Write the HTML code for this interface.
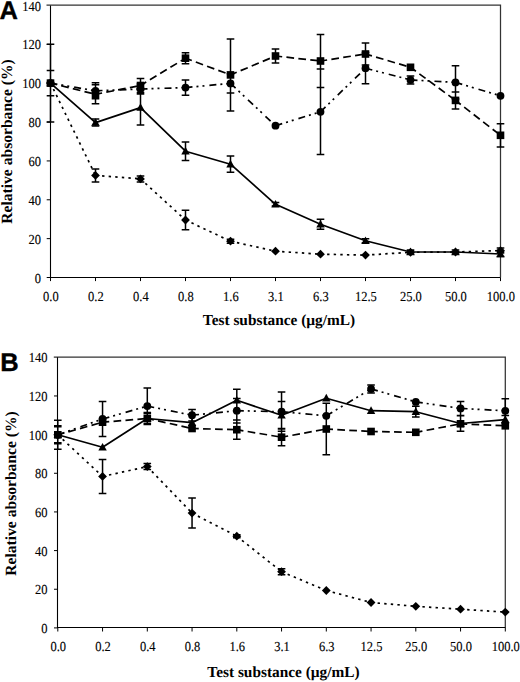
<!DOCTYPE html>
<html><head><meta charset="utf-8"><title>Relative absorbance charts</title>
<style>
html,body{margin:0;padding:0;background:#fff;}
body{width:520px;height:682px;overflow:hidden;font-family:"Liberation Serif",serif;}
svg{display:block;text-rendering:geometricPrecision;}
</style></head><body>
<svg width="520" height="682" viewBox="0 0 520 682"><path d="M46.5 5.2H500.5V277.5" fill="none" stroke="#333" stroke-width="1.25"/>
<path d="M50.5 5.5V277.5H500.5" fill="none" stroke="#000" stroke-width="1.1"/>
<path d="M46.7 238.64H50.5M46.7 199.79H50.5M46.7 160.93H50.5M46.7 122.07H50.5M46.7 83.21H50.5M46.7 44.36H50.5M46.7 277.5H50.5M50.5 277.5V281.1M95.5 277.5V281.1M140.5 277.5V281.1M185.5 277.5V281.1M230.5 277.5V281.1M275.5 277.5V281.1M320.5 277.5V281.1M365.5 277.5V281.1M410.5 277.5V281.1M455.5 277.5V281.1M500.5 277.5V281.1" stroke="#000" stroke-width="1"/>
<g font-family="Liberation Serif" font-size="12.5" text-anchor="end" stroke="#000" stroke-width="0.12"><text transform="translate(40.9 282.5) scale(1 1.1)">0</text><text transform="translate(40.9 243.64) scale(1 1.1)">20</text><text transform="translate(40.9 204.79) scale(1 1.1)">40</text><text transform="translate(40.9 165.93) scale(1 1.1)">60</text><text transform="translate(40.9 127.07) scale(1 1.1)">80</text><text transform="translate(40.9 88.21) scale(1 1.1)">100</text><text transform="translate(40.9 49.36) scale(1 1.1)">120</text><text transform="translate(40.9 10.5) scale(1 1.1)">140</text></g>
<g font-family="Liberation Serif" font-size="12.5" text-anchor="middle" stroke="#000" stroke-width="0.12"><text transform="translate(50.9 301) scale(1 1.1)">0.0</text><text transform="translate(95.9 301) scale(1 1.1)">0.2</text><text transform="translate(140.9 301) scale(1 1.1)">0.4</text><text transform="translate(185.9 301) scale(1 1.1)">0.8</text><text transform="translate(230.9 301) scale(1 1.1)">1.6</text><text transform="translate(275.9 301) scale(1 1.1)">3.1</text><text transform="translate(320.9 301) scale(1 1.1)">6.3</text><text transform="translate(365.9 301) scale(1 1.1)">12.5</text><text transform="translate(410.9 301) scale(1 1.1)">25.0</text><text transform="translate(455.9 301) scale(1 1.1)">50.0</text><text transform="translate(500.9 301) scale(1 1.1)">100.0</text></g>
<text x="279" y="325.2" font-family="Liberation Serif" font-weight="bold" font-size="15.35" text-anchor="middle">Test substance (µg/mL)</text>
<text transform="translate(12.3 141.5) rotate(-90)" font-family="Liberation Serif" font-weight="bold" font-size="15.6" text-anchor="middle">Relative absorbance (%)</text>
<text x="-0.6" y="18.9" font-family="Liberation Sans" font-weight="bold" font-size="25.5" stroke="#000" stroke-width="0.35">A</text>
<line x1="50.5" y1="83.1" x2="95.5" y2="175.4" stroke="#000" stroke-width="1.7" stroke-dasharray="2.4 4.2" stroke-dashoffset="0"/>
<line x1="95.5" y1="175.4" x2="140.5" y2="178.9" stroke="#000" stroke-width="1.7" stroke-dasharray="2.4 4.2" stroke-dashoffset="0"/>
<line x1="140.5" y1="178.9" x2="185.5" y2="220" stroke="#000" stroke-width="1.7" stroke-dasharray="2.4 4.2" stroke-dashoffset="0"/>
<line x1="185.5" y1="220" x2="230.5" y2="241.2" stroke="#000" stroke-width="1.7" stroke-dasharray="2.4 4.2" stroke-dashoffset="0"/>
<line x1="230.5" y1="241.2" x2="275.5" y2="251.2" stroke="#000" stroke-width="1.7" stroke-dasharray="2.4 4.2" stroke-dashoffset="0"/>
<line x1="275.5" y1="251.2" x2="320.5" y2="254.2" stroke="#000" stroke-width="1.7" stroke-dasharray="2.4 4.2" stroke-dashoffset="0"/>
<line x1="320.5" y1="254.2" x2="365.5" y2="255.1" stroke="#000" stroke-width="1.7" stroke-dasharray="2.4 4.2" stroke-dashoffset="0"/>
<line x1="365.5" y1="255.1" x2="410.5" y2="252.3" stroke="#000" stroke-width="1.7" stroke-dasharray="2.4 4.2" stroke-dashoffset="0"/>
<line x1="410.5" y1="252.3" x2="455.5" y2="252" stroke="#000" stroke-width="1.7" stroke-dasharray="2.4 4.2" stroke-dashoffset="0"/>
<line x1="455.5" y1="252" x2="500.5" y2="250.6" stroke="#000" stroke-width="1.7" stroke-dasharray="2.4 4.2" stroke-dashoffset="0"/>
<polyline points="50.5,83.1 95.5,122.6 140.5,107.6 185.5,151.2 230.5,164.2 275.5,204.3 320.5,224.3 365.5,240.8 410.5,252 455.5,252 500.5,254" fill="none" stroke="#000" stroke-width="1.7" stroke-linejoin="round"/>
<line x1="50.5" y1="83.1" x2="95.5" y2="90.8" stroke="#000" stroke-width="1.7" stroke-dasharray="7 4 2 4 2 5" stroke-dashoffset="0"/>
<line x1="95.5" y1="90.8" x2="140.5" y2="89" stroke="#000" stroke-width="1.7" stroke-dasharray="7 4 2 4 2 5" stroke-dashoffset="0"/>
<line x1="140.5" y1="89" x2="185.5" y2="87.6" stroke="#000" stroke-width="1.7" stroke-dasharray="7 4 2 4 2 5" stroke-dashoffset="0"/>
<line x1="185.5" y1="87.6" x2="230.5" y2="83.4" stroke="#000" stroke-width="1.7" stroke-dasharray="7 4 2 4 2 5" stroke-dashoffset="0"/>
<line x1="230.5" y1="83.4" x2="275.5" y2="125.7" stroke="#000" stroke-width="1.7" stroke-dasharray="7 4 2 4 2 5" stroke-dashoffset="0"/>
<line x1="275.5" y1="125.7" x2="320.5" y2="111.8" stroke="#000" stroke-width="1.7" stroke-dasharray="7 4 2 4 2 5" stroke-dashoffset="0"/>
<line x1="320.5" y1="111.8" x2="365.5" y2="68.2" stroke="#000" stroke-width="1.7" stroke-dasharray="7 4 2 4 2 5" stroke-dashoffset="0"/>
<line x1="365.5" y1="68.2" x2="410.5" y2="79.9" stroke="#000" stroke-width="1.7" stroke-dasharray="7 4 2 4 2 5" stroke-dashoffset="0"/>
<line x1="410.5" y1="79.9" x2="455.5" y2="82.4" stroke="#000" stroke-width="1.7" stroke-dasharray="7 4 2 4 2 5" stroke-dashoffset="0"/>
<line x1="455.5" y1="82.4" x2="500.5" y2="95.8" stroke="#000" stroke-width="1.7" stroke-dasharray="7 4 2 4 2 5" stroke-dashoffset="0"/>
<line x1="50.5" y1="83.1" x2="95.5" y2="94.3" stroke="#000" stroke-width="1.7" stroke-dasharray="7.7 4.3" stroke-dashoffset="1"/>
<line x1="95.5" y1="94.3" x2="140.5" y2="85.5" stroke="#000" stroke-width="1.7" stroke-dasharray="7.7 4.3" stroke-dashoffset="1"/>
<line x1="140.5" y1="85.5" x2="185.5" y2="58.2" stroke="#000" stroke-width="1.7" stroke-dasharray="7.7 4.3" stroke-dashoffset="1"/>
<line x1="185.5" y1="58.2" x2="230.5" y2="74.9" stroke="#000" stroke-width="1.7" stroke-dasharray="7.7 4.3" stroke-dashoffset="1"/>
<line x1="230.5" y1="74.9" x2="275.5" y2="56" stroke="#000" stroke-width="1.7" stroke-dasharray="7.7 4.3" stroke-dashoffset="1"/>
<line x1="275.5" y1="56" x2="320.5" y2="61" stroke="#000" stroke-width="1.7" stroke-dasharray="7.7 4.3" stroke-dashoffset="1"/>
<line x1="320.5" y1="61" x2="365.5" y2="54" stroke="#000" stroke-width="1.7" stroke-dasharray="7.7 4.3" stroke-dashoffset="1"/>
<line x1="365.5" y1="54" x2="410.5" y2="67.3" stroke="#000" stroke-width="1.7" stroke-dasharray="7.7 4.3" stroke-dashoffset="1"/>
<line x1="410.5" y1="67.3" x2="455.5" y2="100.4" stroke="#000" stroke-width="1.7" stroke-dasharray="7.7 4.3" stroke-dashoffset="1"/>
<line x1="455.5" y1="100.4" x2="500.5" y2="135.3" stroke="#000" stroke-width="1.7" stroke-dasharray="7.7 4.3" stroke-dashoffset="1"/>
<path d="M95.5 168.9V181.9M91.7 168.9H99.3M91.7 181.9H99.3M140.5 175.9V181.9M136.7 175.9H144.3M136.7 181.9H144.3M185.5 210.3V229.7M181.7 210.3H189.3M181.7 229.7H189.3M230.5 239.2V243.2M226.7 239.2H234.3M226.7 243.2H234.3M410.5 250.3V254.3M406.7 250.3H414.3M406.7 254.3H414.3M455.5 250V254M451.7 250H459.3M451.7 254H459.3M500.5 248.1V253.1M496.7 248.1H504.3M496.7 253.1H504.3M95.5 119.1V126.1M91.7 119.1H99.3M91.7 126.1H99.3M140.5 90.1V125.1M136.7 90.1H144.3M136.7 125.1H144.3M185.5 142V160.4M181.7 142H189.3M181.7 160.4H189.3M230.5 156.1V172.3M226.7 156.1H234.3M226.7 172.3H234.3M275.5 202.5V206.1M271.7 202.5H279.3M271.7 206.1H279.3M320.5 219.3V229.3M316.7 219.3H324.3M316.7 229.3H324.3M365.5 238.8V242.8M361.7 238.8H369.3M361.7 242.8H369.3M410.5 250V254M406.7 250H414.3M406.7 254H414.3M455.5 250V254M451.7 250H459.3M451.7 254H459.3M500.5 251.5V256.5M496.7 251.5H504.3M496.7 256.5H504.3M50.5 70.4V95.8M46.7 70.4H54.3M46.7 95.8H54.3M95.5 82.8V98.8M91.7 82.8H99.3M91.7 98.8H99.3M140.5 84V94M136.7 84H144.3M136.7 94H144.3M185.5 79.9V95.3M181.7 79.9H189.3M181.7 95.3H189.3M230.5 73.7V93.1M226.7 73.7H234.3M226.7 93.1H234.3M320.5 69V154.6M316.7 69H324.3M316.7 154.6H324.3M365.5 52.6V83.8M361.7 52.6H369.3M361.7 83.8H369.3M410.5 75.9V83.9M406.7 75.9H414.3M406.7 83.9H414.3M455.5 65.8V99M451.7 65.8H459.3M451.7 99H459.3M50.5 44.3V121.9M46.7 44.3H54.3M46.7 121.9H54.3M95.5 84.8V103.8M91.7 84.8H99.3M91.7 103.8H99.3M140.5 78.5V92.5M136.7 78.5H144.3M136.7 92.5H144.3M185.5 52.7V63.7M181.7 52.7H189.3M181.7 63.7H189.3M230.5 38.9V110.9M226.7 38.9H234.3M226.7 110.9H234.3M275.5 49V63M271.7 49H279.3M271.7 63H279.3M320.5 34.5V87.5M316.7 34.5H324.3M316.7 87.5H324.3M365.5 43V65M361.7 43H369.3M361.7 65H369.3M455.5 91.9V108.9M451.7 91.9H459.3M451.7 108.9H459.3M500.5 123.7V146.9M496.7 123.7H504.3M496.7 146.9H504.3" fill="none" stroke="#000" stroke-width="1.5"/>
<g fill="#000"><path d="M50.5 78.7L54.9 83.1L50.5 87.5L46.1 83.1Z"/><path d="M95.5 171L99.9 175.4L95.5 179.8L91.1 175.4Z"/><path d="M140.5 174.5L144.9 178.9L140.5 183.3L136.1 178.9Z"/><path d="M185.5 215.6L189.9 220L185.5 224.4L181.1 220Z"/><path d="M230.5 236.8L234.9 241.2L230.5 245.6L226.1 241.2Z"/><path d="M275.5 246.8L279.9 251.2L275.5 255.6L271.1 251.2Z"/><path d="M320.5 249.8L324.9 254.2L320.5 258.6L316.1 254.2Z"/><path d="M365.5 250.7L369.9 255.1L365.5 259.5L361.1 255.1Z"/><path d="M410.5 247.9L414.9 252.3L410.5 256.7L406.1 252.3Z"/><path d="M455.5 247.6L459.9 252L455.5 256.4L451.1 252Z"/><path d="M500.5 246.2L504.9 250.6L500.5 255L496.1 250.6Z"/><path d="M50.5 78.69L54.7 86.29L46.3 86.29Z"/><path d="M95.5 118.19L99.7 125.79L91.3 125.79Z"/><path d="M140.5 103.19L144.7 110.79L136.3 110.79Z"/><path d="M185.5 146.79L189.7 154.39L181.3 154.39Z"/><path d="M230.5 159.79L234.7 167.39L226.3 167.39Z"/><path d="M275.5 199.89L279.7 207.49L271.3 207.49Z"/><path d="M320.5 219.89L324.7 227.49L316.3 227.49Z"/><path d="M365.5 236.39L369.7 243.99L361.3 243.99Z"/><path d="M410.5 247.59L414.7 255.19L406.3 255.19Z"/><path d="M455.5 247.59L459.7 255.19L451.3 255.19Z"/><path d="M500.5 249.59L504.7 257.19L496.3 257.19Z"/><circle cx="50.5" cy="83.1" r="3.9"/><circle cx="95.5" cy="90.8" r="3.9"/><circle cx="140.5" cy="89" r="3.9"/><circle cx="185.5" cy="87.6" r="3.9"/><circle cx="230.5" cy="83.4" r="3.9"/><circle cx="275.5" cy="125.7" r="3.9"/><circle cx="320.5" cy="111.8" r="3.9"/><circle cx="365.5" cy="68.2" r="3.9"/><circle cx="410.5" cy="79.9" r="3.9"/><circle cx="455.5" cy="82.4" r="3.9"/><circle cx="500.5" cy="95.8" r="3.9"/><rect x="46.7" y="79.3" width="7.6" height="7.6"/><rect x="91.7" y="90.5" width="7.6" height="7.6"/><rect x="136.7" y="81.7" width="7.6" height="7.6"/><rect x="181.7" y="54.4" width="7.6" height="7.6"/><rect x="226.7" y="71.1" width="7.6" height="7.6"/><rect x="271.7" y="52.2" width="7.6" height="7.6"/><rect x="316.7" y="57.2" width="7.6" height="7.6"/><rect x="361.7" y="50.2" width="7.6" height="7.6"/><rect x="406.7" y="63.5" width="7.6" height="7.6"/><rect x="451.7" y="96.6" width="7.6" height="7.6"/><rect x="496.7" y="131.5" width="7.6" height="7.6"/></g>
<path d="M53.8 357H505.3V627.9" fill="none" stroke="#333" stroke-width="1.25"/>
<path d="M57.5 357.3V627.5H505.3" fill="none" stroke="#000" stroke-width="1.1"/>
<path d="M54 589.24H57.8M54 550.59H57.8M54 511.93H57.8M54 473.27H57.8M54 434.61H57.8M54 395.96H57.8M54 627.9H57.8M57.8 627.9V631.5M102.55 627.9V631.5M147.3 627.9V631.5M192.05 627.9V631.5M236.8 627.9V631.5M281.55 627.9V631.5M326.3 627.9V631.5M371.05 627.9V631.5M415.8 627.9V631.5M460.55 627.9V631.5M505.3 627.9V631.5" stroke="#000" stroke-width="1"/>
<g font-family="Liberation Serif" font-size="12.5" text-anchor="end" stroke="#000" stroke-width="0.12"><text transform="translate(47.4 632.9) scale(1 1.1)">0</text><text transform="translate(47.4 594.24) scale(1 1.1)">20</text><text transform="translate(47.4 555.59) scale(1 1.1)">40</text><text transform="translate(47.4 516.93) scale(1 1.1)">60</text><text transform="translate(47.4 478.27) scale(1 1.1)">80</text><text transform="translate(47.4 439.61) scale(1 1.1)">100</text><text transform="translate(47.4 400.96) scale(1 1.1)">120</text><text transform="translate(47.4 362.3) scale(1 1.1)">140</text></g>
<g font-family="Liberation Serif" font-size="12.5" text-anchor="middle" stroke="#000" stroke-width="0.12"><text transform="translate(58.2 651.2) scale(1 1.1)">0.0</text><text transform="translate(102.95 651.2) scale(1 1.1)">0.2</text><text transform="translate(147.7 651.2) scale(1 1.1)">0.4</text><text transform="translate(192.45 651.2) scale(1 1.1)">0.8</text><text transform="translate(237.2 651.2) scale(1 1.1)">1.6</text><text transform="translate(281.95 651.2) scale(1 1.1)">3.1</text><text transform="translate(326.7 651.2) scale(1 1.1)">6.3</text><text transform="translate(371.45 651.2) scale(1 1.1)">12.5</text><text transform="translate(416.2 651.2) scale(1 1.1)">25.0</text><text transform="translate(460.95 651.2) scale(1 1.1)">50.0</text><text transform="translate(505.7 651.2) scale(1 1.1)">100.0</text></g>
<text x="283.5" y="677.4" font-family="Liberation Serif" font-weight="bold" font-size="15.35" text-anchor="middle">Test substance (µg/mL)</text>
<text transform="translate(15.7 493.5) rotate(-90)" font-family="Liberation Serif" font-weight="bold" font-size="15.6" text-anchor="middle">Relative absorbance (%)</text>
<text x="0.2" y="371" font-family="Liberation Sans" font-weight="bold" font-size="25.5" stroke="#000" stroke-width="0.35">B</text>
<line x1="57.8" y1="434.8" x2="102.55" y2="476.4" stroke="#000" stroke-width="1.7" stroke-dasharray="2.4 4.2" stroke-dashoffset="0"/>
<line x1="102.55" y1="476.4" x2="147.3" y2="466.6" stroke="#000" stroke-width="1.7" stroke-dasharray="2.4 4.2" stroke-dashoffset="0"/>
<line x1="147.3" y1="466.6" x2="192.05" y2="513.1" stroke="#000" stroke-width="1.7" stroke-dasharray="2.4 4.2" stroke-dashoffset="0"/>
<line x1="192.05" y1="513.1" x2="236.8" y2="536.2" stroke="#000" stroke-width="1.7" stroke-dasharray="2.4 4.2" stroke-dashoffset="0"/>
<line x1="236.8" y1="536.2" x2="281.55" y2="571.7" stroke="#000" stroke-width="1.7" stroke-dasharray="2.4 4.2" stroke-dashoffset="0"/>
<line x1="281.55" y1="571.7" x2="326.3" y2="590.5" stroke="#000" stroke-width="1.7" stroke-dasharray="2.4 4.2" stroke-dashoffset="0"/>
<line x1="326.3" y1="590.5" x2="371.05" y2="602.5" stroke="#000" stroke-width="1.7" stroke-dasharray="2.4 4.2" stroke-dashoffset="0"/>
<line x1="371.05" y1="602.5" x2="415.8" y2="606.3" stroke="#000" stroke-width="1.7" stroke-dasharray="2.4 4.2" stroke-dashoffset="0"/>
<line x1="415.8" y1="606.3" x2="460.55" y2="609.2" stroke="#000" stroke-width="1.7" stroke-dasharray="2.4 4.2" stroke-dashoffset="0"/>
<line x1="460.55" y1="609.2" x2="505.3" y2="612.1" stroke="#000" stroke-width="1.7" stroke-dasharray="2.4 4.2" stroke-dashoffset="0"/>
<polyline points="57.8,434.8 102.55,447.3 147.3,418.5 192.05,422.7 236.8,400.3 281.55,415.3 326.3,398.2 371.05,410.7 415.8,411.7 460.55,423.5 505.3,419.6" fill="none" stroke="#000" stroke-width="1.7" stroke-linejoin="round"/>
<line x1="57.8" y1="434.8" x2="102.55" y2="419" stroke="#000" stroke-width="1.7" stroke-dasharray="7 4 2 4 2 5" stroke-dashoffset="0"/>
<line x1="102.55" y1="419" x2="147.3" y2="406.1" stroke="#000" stroke-width="1.7" stroke-dasharray="7 4 2 4 2 5" stroke-dashoffset="0"/>
<line x1="147.3" y1="406.1" x2="192.05" y2="415.2" stroke="#000" stroke-width="1.7" stroke-dasharray="7 4 2 4 2 5" stroke-dashoffset="0"/>
<line x1="192.05" y1="415.2" x2="236.8" y2="410.7" stroke="#000" stroke-width="1.7" stroke-dasharray="7 4 2 4 2 5" stroke-dashoffset="0"/>
<line x1="236.8" y1="410.7" x2="281.55" y2="411.7" stroke="#000" stroke-width="1.7" stroke-dasharray="7 4 2 4 2 5" stroke-dashoffset="0"/>
<line x1="281.55" y1="411.7" x2="326.3" y2="415.8" stroke="#000" stroke-width="1.7" stroke-dasharray="7 4 2 4 2 5" stroke-dashoffset="0"/>
<line x1="326.3" y1="415.8" x2="371.05" y2="388.9" stroke="#000" stroke-width="1.7" stroke-dasharray="7 4 2 4 2 5" stroke-dashoffset="0"/>
<line x1="371.05" y1="388.9" x2="415.8" y2="401.9" stroke="#000" stroke-width="1.7" stroke-dasharray="7 4 2 4 2 5" stroke-dashoffset="0"/>
<line x1="415.8" y1="401.9" x2="460.55" y2="408.4" stroke="#000" stroke-width="1.7" stroke-dasharray="7 4 2 4 2 5" stroke-dashoffset="0"/>
<line x1="460.55" y1="408.4" x2="505.3" y2="410.8" stroke="#000" stroke-width="1.7" stroke-dasharray="7 4 2 4 2 5" stroke-dashoffset="0"/>
<line x1="57.8" y1="434.8" x2="102.55" y2="422.2" stroke="#000" stroke-width="1.7" stroke-dasharray="7.7 4.3" stroke-dashoffset="1"/>
<line x1="102.55" y1="422.2" x2="147.3" y2="418.5" stroke="#000" stroke-width="1.7" stroke-dasharray="7.7 4.3" stroke-dashoffset="1"/>
<line x1="147.3" y1="418.5" x2="192.05" y2="428.5" stroke="#000" stroke-width="1.7" stroke-dasharray="7.7 4.3" stroke-dashoffset="1"/>
<line x1="192.05" y1="428.5" x2="236.8" y2="429.7" stroke="#000" stroke-width="1.7" stroke-dasharray="7.7 4.3" stroke-dashoffset="1"/>
<line x1="236.8" y1="429.7" x2="281.55" y2="437.2" stroke="#000" stroke-width="1.7" stroke-dasharray="7.7 4.3" stroke-dashoffset="1"/>
<line x1="281.55" y1="437.2" x2="326.3" y2="429" stroke="#000" stroke-width="1.7" stroke-dasharray="7.7 4.3" stroke-dashoffset="1"/>
<line x1="326.3" y1="429" x2="371.05" y2="431.5" stroke="#000" stroke-width="1.7" stroke-dasharray="7.7 4.3" stroke-dashoffset="1"/>
<line x1="371.05" y1="431.5" x2="415.8" y2="432.3" stroke="#000" stroke-width="1.7" stroke-dasharray="7.7 4.3" stroke-dashoffset="1"/>
<line x1="415.8" y1="432.3" x2="460.55" y2="423.8" stroke="#000" stroke-width="1.7" stroke-dasharray="7.7 4.3" stroke-dashoffset="1"/>
<line x1="460.55" y1="423.8" x2="505.3" y2="425.8" stroke="#000" stroke-width="1.7" stroke-dasharray="7.7 4.3" stroke-dashoffset="1"/>
<path d="M102.55 459.4V493.4M98.75 459.4H106.35M98.75 493.4H106.35M147.3 463.6V469.6M143.5 463.6H151.1M143.5 469.6H151.1M192.05 498.1V528.1M188.25 498.1H195.85M188.25 528.1H195.85M236.8 534.7V537.7M233 534.7H240.6M233 537.7H240.6M281.55 568.7V574.7M277.75 568.7H285.35M277.75 574.7H285.35M57.8 426.8V442.8M54 426.8H61.6M54 442.8H61.6M147.3 413.5V423.5M143.5 413.5H151.1M143.5 423.5H151.1M236.8 389.3V411.3M233 389.3H240.6M233 411.3H240.6M281.55 401.6V429M277.75 401.6H285.35M277.75 429H285.35M415.8 406.3V417.1M412 406.3H419.6M412 417.1H419.6M460.55 415.8V431.2M456.75 415.8H464.35M456.75 431.2H464.35M505.3 415.6V423.6M501.5 415.6H509.1M501.5 423.6H509.1M57.8 420.3V449.3M54 420.3H61.6M54 449.3H61.6M102.55 401.5V436.5M98.75 401.5H106.35M98.75 436.5H106.35M147.3 388.1V424.1M143.5 388.1H151.1M143.5 424.1H151.1M192.05 409.5V420.9M188.25 409.5H195.85M188.25 420.9H195.85M236.8 398.5V422.9M233 398.5H240.6M233 422.9H240.6M281.55 392.1V431.3M277.75 392.1H285.35M277.75 431.3H285.35M371.05 384.9V392.9M367.25 384.9H374.85M367.25 392.9H374.85M460.55 401.4V415.4M456.75 401.4H464.35M456.75 415.4H464.35M505.3 398.8V422.8M501.5 398.8H509.1M501.5 422.8H509.1M57.8 425.8V443.8M54 425.8H61.6M54 443.8H61.6M147.3 412.5V424.5M143.5 412.5H151.1M143.5 424.5H151.1M236.8 420.1V439.3M233 420.1H240.6M233 439.3H240.6M281.55 428.6V445.8M277.75 428.6H285.35M277.75 445.8H285.35M326.3 403.2V454.8M322.5 403.2H330.1M322.5 454.8H330.1" fill="none" stroke="#000" stroke-width="1.5"/>
<g fill="#000"><path d="M57.8 430.4L62.2 434.8L57.8 439.2L53.4 434.8Z"/><path d="M102.55 472L106.95 476.4L102.55 480.8L98.15 476.4Z"/><path d="M147.3 462.2L151.7 466.6L147.3 471L142.9 466.6Z"/><path d="M192.05 508.7L196.45 513.1L192.05 517.5L187.65 513.1Z"/><path d="M236.8 531.8L241.2 536.2L236.8 540.6L232.4 536.2Z"/><path d="M281.55 567.3L285.95 571.7L281.55 576.1L277.15 571.7Z"/><path d="M326.3 586.1L330.7 590.5L326.3 594.9L321.9 590.5Z"/><path d="M371.05 598.1L375.45 602.5L371.05 606.9L366.65 602.5Z"/><path d="M415.8 601.9L420.2 606.3L415.8 610.7L411.4 606.3Z"/><path d="M460.55 604.8L464.95 609.2L460.55 613.6L456.15 609.2Z"/><path d="M505.3 607.7L509.7 612.1L505.3 616.5L500.9 612.1Z"/><path d="M57.8 430.39L62 437.99L53.6 437.99Z"/><path d="M102.55 442.89L106.75 450.49L98.35 450.49Z"/><path d="M147.3 414.09L151.5 421.69L143.1 421.69Z"/><path d="M192.05 418.29L196.25 425.89L187.85 425.89Z"/><path d="M236.8 395.89L241 403.49L232.6 403.49Z"/><path d="M281.55 410.89L285.75 418.49L277.35 418.49Z"/><path d="M326.3 393.79L330.5 401.39L322.1 401.39Z"/><path d="M371.05 406.29L375.25 413.89L366.85 413.89Z"/><path d="M415.8 407.29L420 414.89L411.6 414.89Z"/><path d="M460.55 419.09L464.75 426.69L456.35 426.69Z"/><path d="M505.3 415.19L509.5 422.79L501.1 422.79Z"/><circle cx="57.8" cy="434.8" r="3.9"/><circle cx="102.55" cy="419" r="3.9"/><circle cx="147.3" cy="406.1" r="3.9"/><circle cx="192.05" cy="415.2" r="3.9"/><circle cx="236.8" cy="410.7" r="3.9"/><circle cx="281.55" cy="411.7" r="3.9"/><circle cx="326.3" cy="415.8" r="3.9"/><circle cx="371.05" cy="388.9" r="3.9"/><circle cx="415.8" cy="401.9" r="3.9"/><circle cx="460.55" cy="408.4" r="3.9"/><circle cx="505.3" cy="410.8" r="3.9"/><rect x="54" y="431" width="7.6" height="7.6"/><rect x="98.75" y="418.4" width="7.6" height="7.6"/><rect x="143.5" y="414.7" width="7.6" height="7.6"/><rect x="188.25" y="424.7" width="7.6" height="7.6"/><rect x="233" y="425.9" width="7.6" height="7.6"/><rect x="277.75" y="433.4" width="7.6" height="7.6"/><rect x="322.5" y="425.2" width="7.6" height="7.6"/><rect x="367.25" y="427.7" width="7.6" height="7.6"/><rect x="412" y="428.5" width="7.6" height="7.6"/><rect x="456.75" y="420" width="7.6" height="7.6"/><rect x="501.5" y="422" width="7.6" height="7.6"/></g></svg>
</body></html>
